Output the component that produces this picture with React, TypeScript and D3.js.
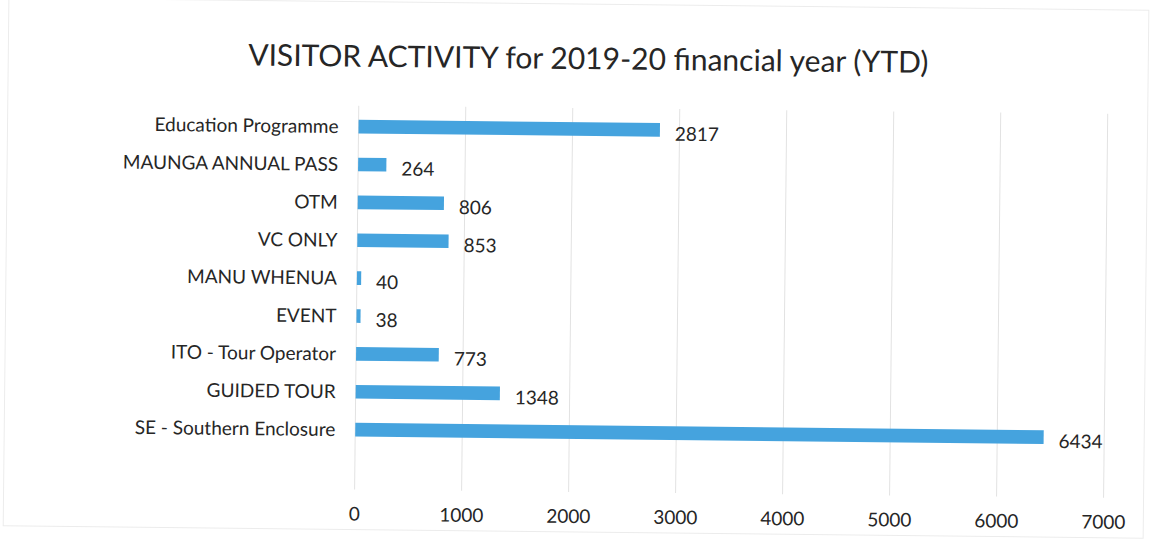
import React from 'react'
import * as d3 from 'd3'

const categories = [
  'Education Programme',
  'MAUNGA ANNUAL PASS',
  'OTM',
  'VC ONLY',
  'MANU WHENUA',
  'EVENT',
  'ITO - Tour Operator',
  'GUIDED TOUR',
  'SE - Southern Enclosure',
]
const visitors = [2817, 264, 806, 853, 40, 38, 773, 1348, 6434]
const xTicks = [0, 1000, 2000, 3000, 4000, 5000, 6000, 7000]

const W = 1152
const H = 540
const font = 'Lato, Calibri, "Open Sans", sans-serif'

export default function App() {
  const x = d3.scaleLinear().domain([0, 7000]).range([357, 1106])
  const y = d3.scaleBand().domain(categories).range([110, 451]).paddingInner(0.64).paddingOuter(0.32)
  const data = categories.map((c, i) => ({ c, v: visitors[i] }))

  return (
    <svg width={W} height={H} style={{ position: 'absolute', left: 0, top: 0, background: '#fff' }}>
      <rect x={0} y={0} width={W} height={H} fill="#fff" />
      <g transform={`rotate(0.62, 576, 270)`}>
        <rect x={6} y={4} width={1140} height={528} fill="none" stroke="#ececec" strokeWidth={1} />
        <text x={586} y={69} textAnchor="middle" fontFamily={font} fontSize={30} fill="#262626">
          VISITOR ACTIVITY for 2019-20 financial year (YTD)
        </text>
        {xTicks.map(t => (
          <line key={t} x1={x(t)} x2={x(t)} y1={108} y2={492} stroke="#e2e2e2" strokeWidth={1} />
        ))}
        {data.map(d => (
          <g key={d.c}>
            <rect x={x(0)} y={y(d.c)} width={x(d.v) - x(0)} height={y.bandwidth()} fill="#45a3de" />
            <text x={x(0) - 20} y={y(d.c)! + y.bandwidth() / 2} dy="0.35em" textAnchor="end"
              fontFamily={font} fontSize={19} fill="#262626">{d.c}</text>
            <text x={x(d.v) + 15} y={y(d.c)! + y.bandwidth() / 2 + 4} dy="0.35em"
              fontFamily={font} fontSize={19} fill="#262626">{d.v}</text>
          </g>
        ))}
        {xTicks.map(t => (
          <text key={t} x={x(t)} y={523} textAnchor="middle" fontFamily={font} fontSize={19} fill="#262626">{t}</text>
        ))}
      </g>
    </svg>
  )
}
